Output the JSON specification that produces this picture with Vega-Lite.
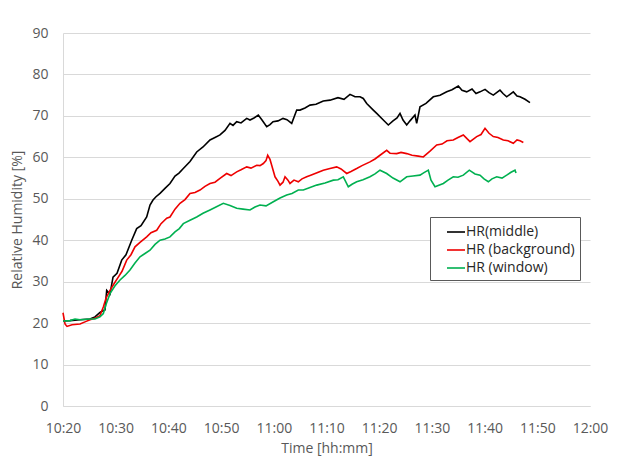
{
"$schema": "https://vega.github.io/schema/vega-lite/v6.json",
"autosize": "none",
"width": 527,
"height": 373,
"padding": {"left": 63, "top": 33, "right": 32, "bottom": 52},
"background": "white",
"config": {
  "font": "Open Sans",
  "view": {"stroke": null},
  "axis": {"labelFont": "Open Sans", "titleFont": "Open Sans", "labelFontSize": 14, "titleFontSize": 14, "labelColor": "#595959", "titleColor": "#595959", "titleFontWeight": "normal", "gridColor": "#d9d9d9", "domainColor": "#d9d9d9", "tickSize": 0, "labelOverlap": false, "labelFlush": false}
},
"data": {"values": [
{"s":"HR(middle)","m":0,"v":20.5},{"s":"HR(middle)","m":1.33,"v":20.6},{"s":"HR(middle)","m":3.23,"v":20.8},{"s":"HR(middle)","m":5.12,"v":21.0},{"s":"HR(middle)","m":6.07,"v":21.5},{"s":"HR(middle)","m":7.02,"v":22.6},{"s":"HR(middle)","m":7.59,"v":23.0},{"s":"HR(middle)","m":7.97,"v":23.2},{"s":"HR(middle)","m":8.29,"v":27.9},{"s":"HR(middle)","m":8.92,"v":27.0},{"s":"HR(middle)","m":9.49,"v":31.1},{"s":"HR(middle)","m":10.25,"v":32.0},{"s":"HR(middle)","m":11.14,"v":35.2},{"s":"HR(middle)","m":11.95,"v":36.5},{"s":"HR(middle)","m":13.04,"v":40.0},{"s":"HR(middle)","m":13.98,"v":42.8},{"s":"HR(middle)","m":14.8,"v":43.5},{"s":"HR(middle)","m":15.88,"v":45.6},{"s":"HR(middle)","m":16.51,"v":48.5},{"s":"HR(middle)","m":17.08,"v":49.7},{"s":"HR(middle)","m":17.65,"v":50.5},{"s":"HR(middle)","m":18.41,"v":51.3},{"s":"HR(middle)","m":19.35,"v":52.5},{"s":"HR(middle)","m":20.3,"v":53.7},{"s":"HR(middle)","m":21.25,"v":55.5},{"s":"HR(middle)","m":22.01,"v":56.2},{"s":"HR(middle)","m":22.83,"v":57.3},{"s":"HR(middle)","m":24.1,"v":59.0},{"s":"HR(middle)","m":25.37,"v":61.3},{"s":"HR(middle)","m":26.57,"v":62.5},{"s":"HR(middle)","m":27.89,"v":64.2},{"s":"HR(middle)","m":28.84,"v":64.8},{"s":"HR(middle)","m":29.79,"v":65.4},{"s":"HR(middle)","m":30.74,"v":66.5},{"s":"HR(middle)","m":31.69,"v":68.2},{"s":"HR(middle)","m":32.26,"v":67.7},{"s":"HR(middle)","m":32.96,"v":68.6},{"s":"HR(middle)","m":33.78,"v":68.3},{"s":"HR(middle)","m":34.86,"v":69.4},{"s":"HR(middle)","m":35.48,"v":69.0},{"s":"HR(middle)","m":36.24,"v":69.5},{"s":"HR(middle)","m":37.06,"v":70.2},{"s":"HR(middle)","m":37.76,"v":69.0},{"s":"HR(middle)","m":38.65,"v":67.4},{"s":"HR(middle)","m":39.28,"v":67.9},{"s":"HR(middle)","m":39.85,"v":68.6},{"s":"HR(middle)","m":40.8,"v":68.8},{"s":"HR(middle)","m":41.75,"v":69.4},{"s":"HR(middle)","m":42.5,"v":69.1},{"s":"HR(middle)","m":43.4,"v":68.2},{"s":"HR(middle)","m":44.35,"v":71.4},{"s":"HR(middle)","m":44.97,"v":71.4},{"s":"HR(middle)","m":45.92,"v":71.9},{"s":"HR(middle)","m":46.87,"v":72.6},{"s":"HR(middle)","m":48.01,"v":72.8},{"s":"HR(middle)","m":49.39,"v":73.6},{"s":"HR(middle)","m":50.66,"v":73.8},{"s":"HR(middle)","m":52.18,"v":74.4},{"s":"HR(middle)","m":53.32,"v":74.0},{"s":"HR(middle)","m":54.46,"v":75.2},{"s":"HR(middle)","m":55.41,"v":74.6},{"s":"HR(middle)","m":56.36,"v":74.6},{"s":"HR(middle)","m":56.98,"v":74.2},{"s":"HR(middle)","m":57.63,"v":73.0},{"s":"HR(middle)","m":58.88,"v":71.4},{"s":"HR(middle)","m":59.53,"v":70.6},{"s":"HR(middle)","m":60.78,"v":69.0},{"s":"HR(middle)","m":61.73,"v":67.8},{"s":"HR(middle)","m":62.62,"v":68.8},{"s":"HR(middle)","m":63.38,"v":69.5},{"s":"HR(middle)","m":63.95,"v":70.6},{"s":"HR(middle)","m":64.52,"v":69.0},{"s":"HR(middle)","m":65.22,"v":67.8},{"s":"HR(middle)","m":65.84,"v":68.8},{"s":"HR(middle)","m":66.79,"v":70.2},{"s":"HR(middle)","m":67.11,"v":68.2},{"s":"HR(middle)","m":67.74,"v":72.2},{"s":"HR(middle)","m":68.88,"v":73.0},{"s":"HR(middle)","m":70.27,"v":74.6},{"s":"HR(middle)","m":71.54,"v":75.0},{"s":"HR(middle)","m":72.81,"v":75.8},{"s":"HR(middle)","m":73.81,"v":76.3},{"s":"HR(middle)","m":75.01,"v":77.2},{"s":"HR(middle)","m":75.71,"v":76.2},{"s":"HR(middle)","m":76.6,"v":75.8},{"s":"HR(middle)","m":77.61,"v":76.5},{"s":"HR(middle)","m":78.37,"v":75.4},{"s":"HR(middle)","m":79.13,"v":75.8},{"s":"HR(middle)","m":80.08,"v":76.4},{"s":"HR(middle)","m":80.84,"v":75.6},{"s":"HR(middle)","m":81.65,"v":75.0},{"s":"HR(middle)","m":82.92,"v":76.2},{"s":"HR(middle)","m":83.49,"v":75.4},{"s":"HR(middle)","m":84.19,"v":74.6},{"s":"HR(middle)","m":84.82,"v":75.2},{"s":"HR(middle)","m":85.45,"v":75.8},{"s":"HR(middle)","m":86.15,"v":74.8},{"s":"HR(middle)","m":86.72,"v":74.6},{"s":"HR(middle)","m":87.67,"v":74.0},{"s":"HR(middle)","m":88.61,"v":73.2},
{"s":"HR (background)","m":0,"v":22.5},{"s":"HR (background)","m":0.38,"v":19.8},{"s":"HR (background)","m":0.76,"v":19.2},{"s":"HR (background)","m":1.71,"v":19.6},{"s":"HR (background)","m":3.23,"v":19.8},{"s":"HR (background)","m":4.17,"v":20.3},{"s":"HR (background)","m":5.12,"v":20.8},{"s":"HR (background)","m":6.07,"v":21.2},{"s":"HR (background)","m":7.02,"v":21.8},{"s":"HR (background)","m":7.65,"v":23.9},{"s":"HR (background)","m":8.16,"v":26.0},{"s":"HR (background)","m":8.92,"v":27.9},{"s":"HR (background)","m":9.68,"v":29.5},{"s":"HR (background)","m":10.49,"v":31.1},{"s":"HR (background)","m":11.2,"v":32.5},{"s":"HR (background)","m":12.09,"v":35.2},{"s":"HR (background)","m":12.9,"v":36.5},{"s":"HR (background)","m":13.66,"v":38.4},{"s":"HR (background)","m":14.61,"v":39.5},{"s":"HR (background)","m":15.88,"v":40.8},{"s":"HR (background)","m":16.7,"v":41.8},{"s":"HR (background)","m":17.78,"v":42.4},{"s":"HR (background)","m":18.6,"v":44.0},{"s":"HR (background)","m":19.68,"v":45.3},{"s":"HR (background)","m":20.3,"v":45.6},{"s":"HR (background)","m":21.25,"v":47.5},{"s":"HR (background)","m":22.2,"v":48.9},{"s":"HR (background)","m":23.15,"v":49.8},{"s":"HR (background)","m":24.1,"v":51.3},{"s":"HR (background)","m":25.05,"v":51.5},{"s":"HR (background)","m":25.99,"v":52.1},{"s":"HR (background)","m":26.94,"v":53.0},{"s":"HR (background)","m":27.89,"v":53.7},{"s":"HR (background)","m":28.84,"v":54.0},{"s":"HR (background)","m":29.79,"v":54.9},{"s":"HR (background)","m":31.06,"v":56.1},{"s":"HR (background)","m":31.88,"v":55.6},{"s":"HR (background)","m":32.96,"v":56.5},{"s":"HR (background)","m":33.78,"v":57.0},{"s":"HR (background)","m":34.86,"v":57.7},{"s":"HR (background)","m":35.67,"v":57.4},{"s":"HR (background)","m":36.76,"v":58.1},{"s":"HR (background)","m":37.38,"v":58.0},{"s":"HR (background)","m":38.01,"v":58.5},{"s":"HR (background)","m":38.52,"v":59.2},{"s":"HR (background)","m":38.84,"v":60.5},{"s":"HR (background)","m":39.28,"v":59.5},{"s":"HR (background)","m":39.6,"v":58.1},{"s":"HR (background)","m":40.23,"v":55.3},{"s":"HR (background)","m":40.8,"v":54.2},{"s":"HR (background)","m":41.18,"v":53.3},{"s":"HR (background)","m":41.75,"v":54.0},{"s":"HR (background)","m":42.13,"v":55.3},{"s":"HR (background)","m":42.69,"v":54.5},{"s":"HR (background)","m":43.07,"v":53.7},{"s":"HR (background)","m":43.83,"v":54.5},{"s":"HR (background)","m":44.65,"v":54.1},{"s":"HR (background)","m":45.35,"v":54.8},{"s":"HR (background)","m":46.24,"v":55.3},{"s":"HR (background)","m":47.25,"v":55.8},{"s":"HR (background)","m":48.2,"v":56.3},{"s":"HR (background)","m":49.39,"v":56.9},{"s":"HR (background)","m":50.66,"v":57.3},{"s":"HR (background)","m":51.93,"v":57.7},{"s":"HR (background)","m":52.75,"v":57.2},{"s":"HR (background)","m":53.83,"v":56.1},{"s":"HR (background)","m":54.65,"v":56.6},{"s":"HR (background)","m":55.73,"v":57.3},{"s":"HR (background)","m":56.74,"v":58.0},{"s":"HR (background)","m":58.25,"v":58.9},{"s":"HR (background)","m":59.2,"v":59.6},{"s":"HR (background)","m":60.15,"v":60.5},{"s":"HR (background)","m":61.42,"v":61.7},{"s":"HR (background)","m":62.05,"v":61.0},{"s":"HR (background)","m":63.32,"v":60.9},{"s":"HR (background)","m":64.14,"v":61.2},{"s":"HR (background)","m":65.22,"v":60.9},{"s":"HR (background)","m":66.22,"v":60.5},{"s":"HR (background)","m":67.42,"v":60.3},{"s":"HR (background)","m":68.37,"v":60.1},{"s":"HR (background)","m":69.64,"v":61.5},{"s":"HR (background)","m":70.91,"v":63.0},{"s":"HR (background)","m":71.92,"v":63.2},{"s":"HR (background)","m":72.87,"v":64.0},{"s":"HR (background)","m":74.06,"v":64.2},{"s":"HR (background)","m":74.95,"v":64.8},{"s":"HR (background)","m":75.96,"v":65.4},{"s":"HR (background)","m":76.66,"v":64.5},{"s":"HR (background)","m":77.23,"v":63.8},{"s":"HR (background)","m":78.5,"v":65.0},{"s":"HR (background)","m":79.32,"v":65.5},{"s":"HR (background)","m":80.08,"v":67.0},{"s":"HR (background)","m":80.84,"v":65.8},{"s":"HR (background)","m":81.65,"v":65.0},{"s":"HR (background)","m":82.54,"v":64.8},{"s":"HR (background)","m":83.55,"v":64.2},{"s":"HR (background)","m":84.44,"v":64.0},{"s":"HR (background)","m":85.45,"v":63.4},{"s":"HR (background)","m":86.15,"v":64.2},{"s":"HR (background)","m":86.72,"v":64.0},{"s":"HR (background)","m":87.35,"v":63.6},
{"s":"HR (window)","m":0,"v":20.5},{"s":"HR (window)","m":1.33,"v":20.6},{"s":"HR (window)","m":2.28,"v":21.0},{"s":"HR (window)","m":3.23,"v":20.8},{"s":"HR (window)","m":5.12,"v":21.0},{"s":"HR (window)","m":6.07,"v":21.0},{"s":"HR (window)","m":7.02,"v":21.5},{"s":"HR (window)","m":7.65,"v":22.3},{"s":"HR (window)","m":8.16,"v":24.5},{"s":"HR (window)","m":8.92,"v":27.1},{"s":"HR (window)","m":9.87,"v":29.0},{"s":"HR (window)","m":10.82,"v":30.4},{"s":"HR (window)","m":11.76,"v":31.5},{"s":"HR (window)","m":12.71,"v":32.8},{"s":"HR (window)","m":13.66,"v":34.5},{"s":"HR (window)","m":14.61,"v":36.0},{"s":"HR (window)","m":15.56,"v":36.8},{"s":"HR (window)","m":16.51,"v":37.6},{"s":"HR (window)","m":17.46,"v":39.0},{"s":"HR (window)","m":18.41,"v":40.0},{"s":"HR (window)","m":19.35,"v":40.3},{"s":"HR (window)","m":20.3,"v":40.8},{"s":"HR (window)","m":21.25,"v":42.0},{"s":"HR (window)","m":22.07,"v":42.8},{"s":"HR (window)","m":22.83,"v":44.0},{"s":"HR (window)","m":24.1,"v":44.8},{"s":"HR (window)","m":25.37,"v":45.6},{"s":"HR (window)","m":26.57,"v":46.5},{"s":"HR (window)","m":27.89,"v":47.3},{"s":"HR (window)","m":29.03,"v":48.0},{"s":"HR (window)","m":30.42,"v":48.9},{"s":"HR (window)","m":31.69,"v":48.4},{"s":"HR (window)","m":32.96,"v":47.7},{"s":"HR (window)","m":34.16,"v":47.5},{"s":"HR (window)","m":35.48,"v":47.3},{"s":"HR (window)","m":36.43,"v":48.0},{"s":"HR (window)","m":37.38,"v":48.5},{"s":"HR (window)","m":38.52,"v":48.3},{"s":"HR (window)","m":39.91,"v":49.3},{"s":"HR (window)","m":41.18,"v":50.2},{"s":"HR (window)","m":42.45,"v":50.9},{"s":"HR (window)","m":43.45,"v":51.3},{"s":"HR (window)","m":44.65,"v":52.1},{"s":"HR (window)","m":45.6,"v":52.1},{"s":"HR (window)","m":46.87,"v":52.7},{"s":"HR (window)","m":48.14,"v":53.3},{"s":"HR (window)","m":49.72,"v":53.8},{"s":"HR (window)","m":51.3,"v":54.5},{"s":"HR (window)","m":52.18,"v":54.6},{"s":"HR (window)","m":53.19,"v":55.3},{"s":"HR (window)","m":54.14,"v":52.9},{"s":"HR (window)","m":54.84,"v":53.5},{"s":"HR (window)","m":55.73,"v":54.1},{"s":"HR (window)","m":56.93,"v":54.6},{"s":"HR (window)","m":58.25,"v":55.3},{"s":"HR (window)","m":59.2,"v":56.0},{"s":"HR (window)","m":60.15,"v":56.9},{"s":"HR (window)","m":61.42,"v":56.1},{"s":"HR (window)","m":62.62,"v":55.0},{"s":"HR (window)","m":63.95,"v":54.1},{"s":"HR (window)","m":65.22,"v":55.3},{"s":"HR (window)","m":66.41,"v":55.5},{"s":"HR (window)","m":67.74,"v":55.7},{"s":"HR (window)","m":68.5,"v":56.3},{"s":"HR (window)","m":69.32,"v":56.9},{"s":"HR (window)","m":69.83,"v":54.5},{"s":"HR (window)","m":70.59,"v":52.9},{"s":"HR (window)","m":72.17,"v":53.7},{"s":"HR (window)","m":73.06,"v":54.5},{"s":"HR (window)","m":74.06,"v":55.3},{"s":"HR (window)","m":74.95,"v":55.2},{"s":"HR (window)","m":75.96,"v":55.7},{"s":"HR (window)","m":77.1,"v":56.9},{"s":"HR (window)","m":78.18,"v":56.0},{"s":"HR (window)","m":79.13,"v":55.7},{"s":"HR (window)","m":79.89,"v":54.8},{"s":"HR (window)","m":80.71,"v":54.1},{"s":"HR (window)","m":81.4,"v":54.8},{"s":"HR (window)","m":82.3,"v":55.3},{"s":"HR (window)","m":83.3,"v":55.0},{"s":"HR (window)","m":84.19,"v":55.7},{"s":"HR (window)","m":85.01,"v":56.4},{"s":"HR (window)","m":85.77,"v":56.9},{"s":"HR (window)","m":85.96,"v":56.2}
]},
"mark": {"type": "line", "strokeWidth": 1.6, "interpolate": "linear"},
"encoding": {
  "x": {"field": "m", "type": "quantitative", "scale": {"domain": [0, 100], "nice": false}, "axis": {"values": [0,10,20,30,40,50,60,70,80,90,100], "grid": false, "labelPadding": 15, "title": "Time [hh:mm]", "titlePadding": 6, "labelExpr": "floor((620+datum.value)/60) + ':' + (((620+datum.value)%60) < 10 ? '0' : '') + ((620+datum.value)%60)"}},
  "y": {"field": "v", "type": "quantitative", "scale": {"domain": [0, 90], "nice": false}, "axis": {"values": [0,10,20,30,40,50,60,70,80,90], "grid": true, "labelPadding": 15, "title": "Relative Humidity [%]", "titlePadding": 7}},
  "color": {"field": "s", "type": "nominal", "sort": ["HR(middle)", "HR (background)", "HR (window)"],
    "scale": {"domain": ["HR(middle)", "HR (background)", "HR (window)"], "range": ["#000000", "#ee0000", "#00b050"]},
    "legend": {"title": null, "orient": "none", "legendX": 367, "legendY": 184, "symbolType": "stroke", "symbolSize": 324, "symbolStrokeWidth": 1.6, "labelOffset": 0, "labelFontSize": 14, "labelFont": "Open Sans", "labelColor": "#262626", "rowPadding": 1, "padding": 5, "strokeColor": "#595959", "fillColor": "white", "symbolOffset": 11, "labelLimit": 200}}
}
}
